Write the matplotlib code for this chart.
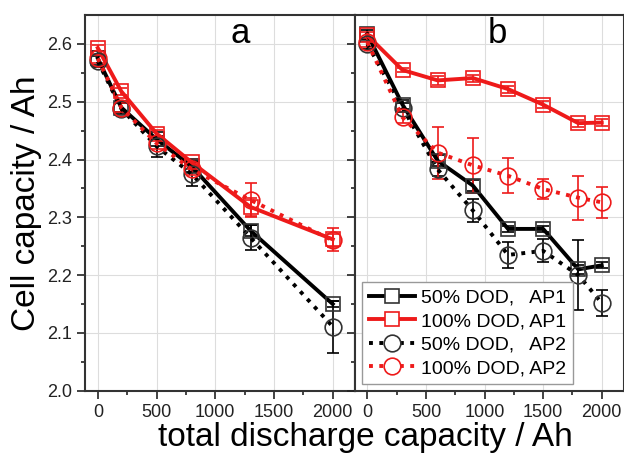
import matplotlib.pyplot as plt
from matplotlib.lines import Line2D

plt.rcParams['font.family'] = ['Liberation Sans', 'DejaVu Sans']

# panel a
xa = [0, 200, 500, 800, 1300, 2000]
a_50_ap1 = [2.575, 2.49, 2.435, 2.388, 2.277, 2.150]
a_50_ap1_err = [0.012, 0.008, 0.012, 0.010, 0.010, 0.005]
a_100_ap1 = [2.593, 2.518, 2.445, 2.395, 2.318, 2.262]
a_100_ap1_err = [0.006, 0.006, 0.006, 0.006, 0.015, 0.02]
a_50_ap2 = [2.570, 2.488, 2.423, 2.375, 2.265, 2.111]
a_50_ap2_err = [0.010, 0.010, 0.018, 0.020, 0.022, 0.045]
a_100_ap2 = [2.575, 2.490, 2.428, 2.383, 2.330, 2.260]
a_100_ap2_err = [0.008, 0.008, 0.010, 0.010, 0.030, 0.012]

# panel b
xb = [0, 300, 600, 900, 1200, 1500, 1800, 2000]
b_50_ap1 = [2.617, 2.495, 2.398, 2.355, 2.280, 2.280, 2.210, 2.217]
b_50_ap1_err = [0.008, 0.008, 0.010, 0.010, 0.005, 0.005, 0.008, 0.005]
b_100_ap1 = [2.615, 2.555, 2.537, 2.541, 2.522, 2.495, 2.463, 2.464]
b_100_ap1_err = [0.006, 0.004, 0.008, 0.006, 0.006, 0.006, 0.006, 0.006]
b_50_ap2 = [2.600, 2.490, 2.383, 2.312, 2.235, 2.242, 2.200, 2.152]
b_50_ap2_err = [0.008, 0.008, 0.012, 0.020, 0.022, 0.020, 0.060, 0.023]
b_100_ap2 = [2.603, 2.473, 2.412, 2.390, 2.372, 2.349, 2.334, 2.326]
b_100_ap2_err = [0.008, 0.010, 0.045, 0.048, 0.030, 0.017, 0.038, 0.027]

labels = ['50% DOD,   AP1', '100% DOD, AP1', '50% DOD,   AP2', '100% DOD, AP2']
red = '#ee1a1a'

# style of each series: colour, line style, marker, marker size
styles = [('black', '-', 's', 10), (red, '-', 's', 10),
          ('black', ':', 'o', 12), (red, ':', 'o', 12)]

fig = plt.figure(figsize=(6.24, 4.57), dpi=100)
ax1 = fig.add_axes([0.137, 0.145, 0.432, 0.822])
ax2 = fig.add_axes([0.569, 0.145, 0.431, 0.822])


def draw(ax, x, series):
    for (y, err), (c, ls, m, ms) in zip(series, styles):
        mec = '#333333' if c == 'black' else c
        ax.errorbar(x, y, yerr=err, color=c, lw=2.8, ls=ls, marker=m,
                    ms=ms, mfc='none', mec=mec, mew=1.2, capsize=4,
                    elinewidth=1.2, ecolor=c, zorder=3)


draw(ax1, xa, [(a_50_ap1, a_50_ap1_err), (a_100_ap1, a_100_ap1_err),
               (a_50_ap2, a_50_ap2_err), (a_100_ap2, a_100_ap2_err)])
draw(ax2, xb, [(b_50_ap1, b_50_ap1_err), (b_100_ap1, b_100_ap1_err),
               (b_50_ap2, b_50_ap2_err), (b_100_ap2, b_100_ap2_err)])

for ax in (ax1, ax2):
    ax.set_xlim(-105, 2190)
    ax.set_ylim(2.0, 2.65)
    ax.set_xticks([0, 500, 1000, 1500, 2000])
    ax.set_xticks([250, 750, 1250, 1750], minor=True)
    ax.set_yticks([2.0, 2.1, 2.2, 2.3, 2.4, 2.5, 2.6])
    ax.set_yticks([2.05, 2.15, 2.25, 2.35, 2.45, 2.55], minor=True)
    ax.grid(True, which='major', color='#dddddd', lw=0.8)
    ax.set_axisbelow(True)
    ax.tick_params(which='both', direction='out', labelsize=13, colors='#222222')
    ax.tick_params(which='major', length=6, width=1.2)
    ax.tick_params(which='minor', length=3, width=1.2)
    for sp in ax.spines.values():
        sp.set_linewidth(1.5)
        sp.set_color('#333333')

ax1.set_yticklabels(['2.0', '2.1', '2.2', '2.3', '2.4', '2.5', '2.6'])
ax2.tick_params(labelleft=False)

ax1.text(0.573, 0.952, 'a', transform=ax1.transAxes, fontsize=25, ha='center', va='center')
ax2.text(0.53, 0.952, 'b', transform=ax2.transAxes, fontsize=25, ha='center', va='center')

ax1.set_ylabel('Cell capacity / Ah', fontsize=24, labelpad=4)
fig.text(0.585, 0.008, 'total discharge capacity / Ah', fontsize=24, ha='center', va='bottom')

handles = []
for c, ls, m, ms in styles:
    mec = '#333333' if c == 'black' else c
    handles.append(Line2D([], [], color=c, lw=2.8, ls=ls, marker=m, ms=ms,
                          mfc='white', mec=mec, mew=1.2))
leg = ax2.legend(handles, labels, loc='lower left', fontsize=14, frameon=True,
                 fancybox=False, edgecolor='#999999', framealpha=1,
                 handlelength=2.4, handletextpad=0.3, labelspacing=0.3,
                 borderpad=0.35, borderaxespad=0.35)
leg.get_frame().set_linewidth(1.0)

fig.savefig('out.png', dpi=100)
